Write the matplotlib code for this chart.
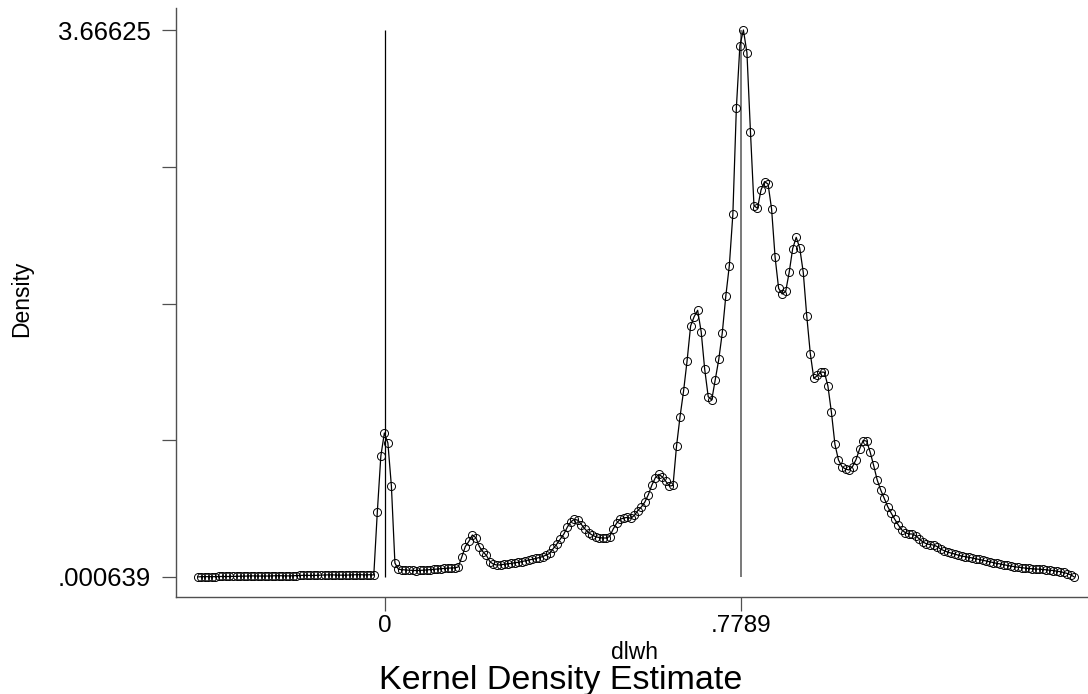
import numpy as np
import matplotlib
matplotlib.use("Agg")
import matplotlib.pyplot as plt

plt.rcParams['font.family'] = ['Liberation Sans', 'DejaVu Sans']

# kernel density of dlwh, 250 evaluation points
x_first, x_last = -0.4099, 1.5093
density = [
    0.001, 0.003, 0.003, 0.003, 0.003, 0.003, 0.004, 0.004, 0.004, 0.004,
    0.005, 0.005, 0.006, 0.006, 0.007, 0.008, 0.008, 0.007, 0.007, 0.007,
    0.007, 0.008, 0.009, 0.009, 0.009, 0.008, 0.008, 0.009, 0.010, 0.011,
    0.012, 0.012, 0.011, 0.011, 0.012, 0.013, 0.014, 0.015, 0.015, 0.014,
    0.013, 0.013, 0.013, 0.014, 0.015, 0.016, 0.016, 0.015, 0.015, 0.016,
    0.014, 0.436, 0.811, 0.966, 0.899, 0.610, 0.094, 0.052,
    0.050, 0.048, 0.046, 0.045, 0.044, 0.045, 0.046, 0.048,
    0.050, 0.052, 0.054, 0.056, 0.058, 0.060, 0.061, 0.062,
    0.068, 0.135, 0.205, 0.239, 0.282, 0.264, 0.204, 0.170, 0.145, 0.103,
    0.086, 0.081, 0.082, 0.086, 0.089, 0.092, 0.096, 0.099, 0.104, 0.109,
    0.115, 0.119, 0.125, 0.131, 0.138, 0.148, 0.159, 0.192, 0.222, 0.255,
    0.289, 0.336, 0.371, 0.387, 0.381, 0.352, 0.322, 0.298, 0.282, 0.271,
    0.265, 0.262, 0.262, 0.272, 0.322, 0.362, 0.388, 0.396, 0.400, 0.394,
    0.413, 0.446, 0.470, 0.503, 0.553, 0.617, 0.667, 0.688, 0.671, 0.641,
    0.610, 0.614, 0.878, 1.076, 1.247, 1.450, 1.683, 1.745, 1.788, 1.644,
    1.393, 1.209, 1.187, 1.321, 1.459, 1.638, 1.884, 2.088, 2.431, 3.146,
    3.562, 3.66625, 3.514, 2.985, 2.489, 2.471, 2.594, 2.650, 2.634, 2.467,
    2.143, 1.935, 1.897, 1.914, 2.042, 2.202, 2.277, 2.205, 2.042, 1.748,
    1.498, 1.331, 1.351, 1.374, 1.373, 1.281, 1.104, 0.889, 0.785, 0.740,
    0.724, 0.718, 0.741, 0.788, 0.858, 0.915, 0.912, 0.838, 0.748, 0.651,
    0.584, 0.528, 0.472, 0.428, 0.387, 0.349, 0.316, 0.298, 0.289, 0.289,
    0.277, 0.255, 0.235, 0.223, 0.218, 0.215, 0.205, 0.188, 0.177, 0.168,
    0.161, 0.155, 0.147, 0.141, 0.137, 0.133, 0.128, 0.123, 0.118, 0.113,
    0.108, 0.103, 0.097, 0.092, 0.088, 0.083, 0.078, 0.074, 0.070, 0.066,
    0.064, 0.060, 0.058, 0.056, 0.054, 0.053, 0.051, 0.049, 0.046, 0.044,
    0.040, 0.036, 0.031, 0.024, 0.015, 0.000639,
]
ref_lines = [0, 0.7789]
y_min, y_max = 0.000639, 3.66625
x_ticks = [0, 0.7789]
x_tick_labels = ["0", ".7789"]
y_tick_labels = [".000639", "", "", "", "3.66625"]

x = np.linspace(x_first, x_last, len(density))

W, H = 1088, 694
fig = plt.figure(figsize=(W / 100, H / 100), dpi=100)
ax = fig.add_axes([176 / W, 97 / H, (1094 - 176) / W, (597 - 8) / H])

ax.vlines(ref_lines[0], y_min, y_max, color='black', lw=0.9, zorder=1)
ax.vlines(ref_lines[1], y_min, y_max, color='#6e6e6e', lw=1.3, zorder=1)
ax.plot(x, density, color='black', lw=0.9, marker='o', ms=5.8,
        mfc='none', mec='black', mew=0.7, zorder=2)

ax.set_xlim(-0.4576, 1.5524)
ax.set_ylim(-0.1334, 3.8137)
ax.spines['top'].set_visible(False)
ax.spines['right'].set_visible(False)
for s in ('left', 'bottom'):
    ax.spines[s].set_color('#505050')
    ax.spines[s].set_linewidth(1.0)

ax.set_xticks(x_ticks)
ax.set_xticklabels(x_tick_labels, fontsize=17.5)
ax.set_yticks(np.linspace(y_min, y_max, 5))
ax.set_yticklabels(y_tick_labels, fontsize=18.5)
ax.tick_params(axis='both', length=10, width=0.9, color='#505050')
ax.tick_params(axis='y', pad=8)
ax.tick_params(axis='x', pad=3)

fig.text(22 / W, 1 - 299 / H, 'Density', rotation=90, ha='center', va='center', fontsize=16.5)
fig.text(635 / W, 1 - 659 / H, 'dlwh', ha='center', va='baseline', fontsize=16.5)
fig.text(561 / W, 1 - 689 / H, 'Kernel Density Estimate', ha='center', va='baseline', fontsize=24.5)

fig.savefig('out.png', dpi=100)
